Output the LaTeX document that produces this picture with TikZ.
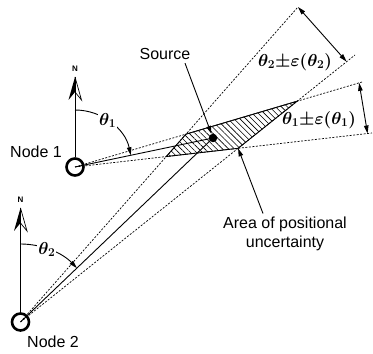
\documentclass[tikz,border=0pt]{standalone}
\usepackage{fontspec}
\setmainfont{Liberation Sans}
\usetikzlibrary{arrows.meta, patterns.meta, positioning, calc}

\begin{document}
\begin{tikzpicture}[x=1pt,y=1pt,>={Triangle[length=8pt,width=4.5pt]},
    font=\fontsize{16}{19}\selectfont,
    station/.style={draw,circle,line width=2.6pt,minimum size=17pt,inner sep=0pt},
    bound/.style={dash pattern=on 2pt off 1.5pt,line width=0.7pt},
    ray/.style={line width=0.9pt},
    sym/.style={font=\fontsize{18}{20}\selectfont\boldmath},
    compass/.pic={
      \fill (0,0) -- (-6.5,-23) -- (0,-15) -- cycle;
      \draw[line width=0.7pt,line join=miter] (0,0) -- (6.5,-23) -- (0,-15);
      \node[font=\rmfamily\bfseries\fontsize{8}{8}\selectfont] (-n) at (0,8) {N};
    }]
    \useasboundingbox (0,0) rectangle (373,354);
    % stations
    \node[station] (n1) at (75,187) {};
    \node[station] (n2) at (20.5,32) {};
    \node (lab1) at (36,202) {Node 1};
    \node (lab2) at (53,12) {Node 2};
    % bearing bounds
    \coordinate (u1) at (362,272);
    \coordinate (l1) at (372,221);
    \coordinate (u2) at (298,347);
    \coordinate (l2) at (355,299);
    \coordinate (pa) at (intersection of n1.center--l1 and n2.center--u2);
    \coordinate (pb) at (intersection of n1.center--u1 and n2.center--u2);
    \coordinate (pc) at (intersection of n1.center--u1 and n2.center--l2);
    \coordinate (pd) at (intersection of n1.center--l1 and n2.center--l2);
    \draw[ray,pattern={Lines[angle=-45,distance=4.2pt,line width=0.6pt]}]
      (pa) -- (pb) -- (pc) -- (pd) -- cycle;
    \draw[bound] (n1.center) -- (u1) (n1.center) -- (l1);
    \draw[bound] (n2.center) -- (u2) (n2.center) -- (l2);
    \node (src) [circle,fill,inner sep=0pt,minimum size=8.5pt] at (213,216) {};
    \draw[ray] (n1.center) -- (src.center);
    \draw[ray] (n2.center) -- (src.center);
    % north arrows
    \coordinate (t1) at (75,277);
    \coordinate (t2) at (20.5,146);
    \draw[ray] (n1) -- (t1);
    \draw[ray] (n2) -- (t2);
    \pic (c1) at (t1) {compass};
    \pic (c2) at (t2) {compass};
    % bearings
    \draw[ray,->] ([yshift=57pt]n1.center) arc[start angle=90,end angle=11.9,radius=57];
    \node[sym,fill=white,inner sep=1pt] (th1) at ([shift={(55:57)}]n1.center) {$\theta_1$};
    \draw[ray,->] ([yshift=78pt]n2.center) arc[start angle=90,end angle=43.7,radius=78];
    \node[sym,fill=white,inner sep=1pt] (th2) at ([shift={(70:77)}]n2.center) {$\theta_2$};
    % error spans
    \coordinate (e1a) at ($(n1.center)!0.99!(u1)$);
    \coordinate (e1b) at ($(n1.center)!0.985!(l1)$);
    \coordinate (e2) at ($(n2.center)!0.975!(l2)$);
    \draw[ray,<->] (u2) -- (e2);
    \draw[ray,<->] (e1a) -- (e1b);
    \node[sym] (err2) at (295,292) {$\theta_2{\pm}\varepsilon(\theta_2)$};
    \node[sym] (err1) at (319,234) {$\theta_1{\pm}\varepsilon(\theta_1)$};
    % labels
    \node (srclbl) at (165,300) {Source};
    \draw[ray,->] ([xshift=20pt]srclbl.south) -- (src);
    \node[align=center] (area) at (285,120) {Area of positional\\uncertainty};
    \draw[ray,->] ([xshift=-22pt]area.north) -- (pd);
\end{tikzpicture}
\end{document}
